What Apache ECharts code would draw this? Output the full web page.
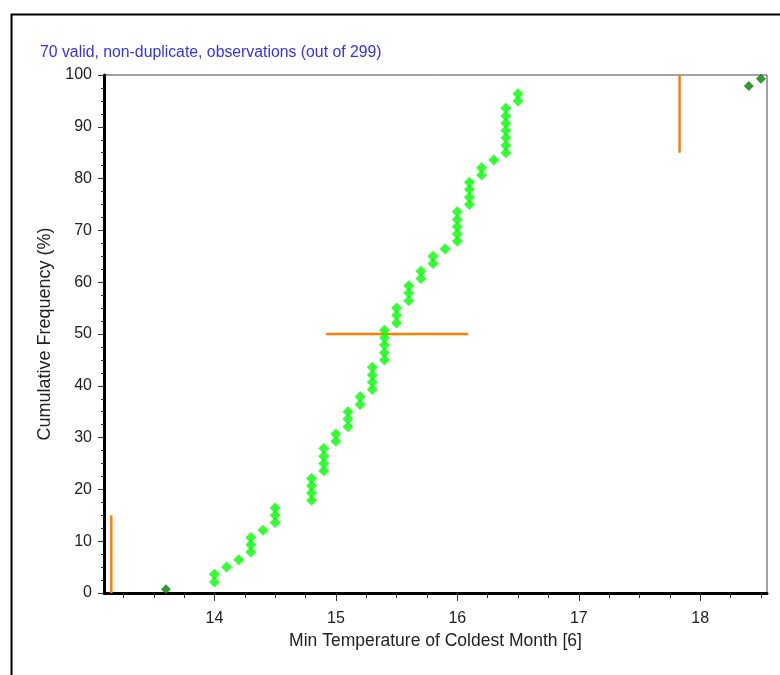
<!DOCTYPE html>
<html>
<head>
<meta charset="utf-8">
<script src="https://cdn.jsdelivr.net/npm/echarts@6/dist/echarts.min.js"></script>
<style>
  html, body { margin: 0; padding: 0; background: #fff; }
  #chart { width: 780px; height: 675px; }
</style>
</head>
<body>
<div id="chart"></div>
<script>
// observations (temperature, cumulative %)
var xMain = [14.0, 14.0, 14.1, 14.2, 14.3, 14.3, 14.3, 14.4, 14.5, 14.5, 14.5,
  14.8, 14.8, 14.8, 14.8, 14.9, 14.9, 14.9, 14.9, 15.0, 15.0, 15.1, 15.1, 15.1,
  15.2, 15.2, 15.3, 15.3, 15.3, 15.3, 15.4, 15.4, 15.4, 15.4, 15.4, 15.5, 15.5, 15.5,
  15.6, 15.6, 15.6, 15.7, 15.7, 15.8, 15.8, 15.9, 16.0, 16.0, 16.0, 16.0, 16.0,
  16.1, 16.1, 16.1, 16.1, 16.2, 16.2, 16.3, 16.4, 16.4, 16.4, 16.4, 16.4, 16.4, 16.4,
  16.5, 16.5];
var yMain = [2.1, 3.6, 5.0, 6.4, 7.9, 9.3, 10.7, 12.1, 13.6, 15.0, 16.4,
  17.9, 19.3, 20.7, 22.1, 23.6, 25.0, 26.4, 27.9, 29.3, 30.7, 32.1, 33.6, 35.0,
  36.4, 37.9, 39.3, 40.7, 42.1, 43.6, 45.0, 46.4, 47.9, 49.3, 50.7, 52.1, 53.6, 55.0,
  56.4, 57.9, 59.3, 60.7, 62.1, 63.6, 65.0, 66.4, 67.9, 69.3, 70.7, 72.1, 73.6,
  75.0, 76.4, 77.9, 79.3, 80.7, 82.1, 83.6, 85.0, 86.4, 87.9, 89.3, 90.7, 92.1, 93.6,
  95.0, 96.4];
var xOut = [13.6, 18.4, 18.5];
var yOut = [0.7, 97.9, 99.3];

// orange marker lines
var lowLine = [[13.15, 0], [13.15, 15]];
var midLine = [[14.92, 50], [16.09, 50]];
var highLine = [[17.83, 85], [17.83, 100]];

var xMajor = [14, 15, 16, 17, 18];
var xMinor = [13.25, 13.5, 13.75, 14, 14.25, 14.5, 14.75, 15, 15.25, 15.5, 15.75, 16,
  16.25, 16.5, 16.75, 17, 17.25, 17.5, 17.75, 18, 18.25, 18.5];

var title = '70 valid, non-duplicate, observations (out of 299)';
var xName = 'Min Temperature of Coldest Month [6]';
var yName = 'Cumulative Frequency (%)';

function pairs(xs, ys) {
  var out = [];
  for (var i = 0; i < xs.length; i++) out.push([xs[i], ys[i]]);
  return out;
}

var font = 'Liberation Sans, Arial, sans-serif';
var chart = echarts.init(document.getElementById('chart'));

var lineStyle = { color: '#ff8000', width: 2.5 };
function orange(data) {
  return {
    type: 'line', data: data, symbol: 'none', silent: true,
    lineStyle: lineStyle, z: 3
  };
}

chart.setOption({
  animation: false,
  backgroundColor: '#fff',
  title: {
    text: title, left: 35, top: 40,
    textStyle: { color: '#3333ee', fontSize: 15.8, fontWeight: 'normal', fontFamily: font }
  },
  graphic: [{
    type: 'rect', left: 9, top: 12,
    shape: { width: 800, height: 700 },
    style: { fill: 'none', stroke: '#000', lineWidth: 2 }
  }],
  grid: {
    left: 104, top: 75, right: 13, bottom: 82,
    show: true, borderColor: '#444', borderWidth: 1
  },
  xAxis: [{
    type: 'value', min: 13.09, max: 18.55,
    name: xName, nameLocation: 'middle', nameGap: 39,
    nameTextStyle: { color: '#222', fontSize: 17.5, fontFamily: font },
    axisLine: { lineStyle: { color: '#000', width: 3 } },
    axisTick: { customValues: xMajor, length: 8, lineStyle: { color: '#333', width: 1 } },
    axisLabel: { customValues: xMajor, margin: 18, color: '#222', fontSize: 16, fontFamily: font },
    splitLine: { show: false }
  }, {
    type: 'value', min: 13.09, max: 18.55, position: 'bottom',
    axisLine: { show: false },
    axisTick: { customValues: xMinor, length: 5, lineStyle: { color: '#333', width: 1 } },
    axisLabel: { show: false },
    splitLine: { show: false }
  }],
  yAxis: {
    type: 'value', min: 0, max: 100, interval: 10,
    name: yName, nameLocation: 'middle', nameGap: 47,
    nameTextStyle: { color: '#222', fontSize: 18, fontFamily: font },
    axisLine: { lineStyle: { color: '#000', width: 3 } },
    axisTick: { length: 6, lineStyle: { color: '#333', width: 1 } },
    minorTick: { show: true, splitNumber: 4, length: 3, lineStyle: { color: '#333', width: 1 } },
    axisLabel: { margin: 12, color: '#222', fontSize: 16, fontFamily: font },
    splitLine: { show: false }
  },
  series: [
    orange(lowLine),
    orange(midLine),
    orange(highLine),
    {
      type: 'scatter', data: pairs(xMain, yMain),
      symbol: 'diamond', symbolSize: [11, 11],
      itemStyle: { color: '#00ff00' }, z: 4
    },
    {
      type: 'scatter', data: pairs(xOut, yOut),
      symbol: 'diamond', symbolSize: [10, 10],
      itemStyle: { color: '#008000' }, z: 4
    }
  ]
});
</script>
</body>
</html>
